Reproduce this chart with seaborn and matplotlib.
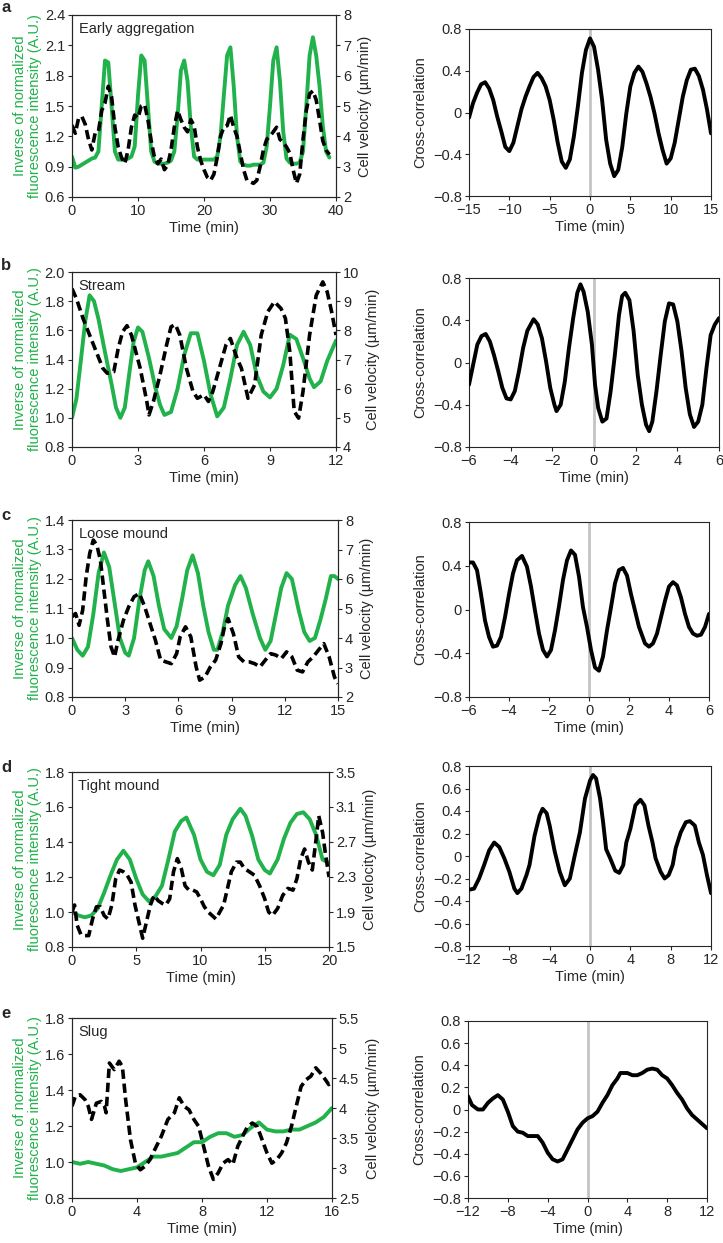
import numpy as np
import matplotlib
matplotlib.use("Agg")
import matplotlib.pyplot as plt
import seaborn as sns

# ---- data ----
# a: Early aggregation
a_t = [0, 0.5, 1, 1.5, 2, 2.5, 3, 3.5, 4, 4.5, 5, 5.5, 6, 6.5, 7, 7.5, 8, 8.5, 9, 9.5,
       10, 10.5, 11, 11.5, 12, 12.5, 13, 13.5, 14, 14.5, 15, 15.5, 16, 16.5, 17, 17.5, 18, 18.5, 19, 19.5,
       20, 20.5, 21, 21.5, 22, 22.5, 23, 23.5, 24, 24.5, 25, 25.5, 26, 26.5, 27, 27.5, 28, 28.5, 29, 29.5,
       30, 30.5, 31, 31.5, 32, 32.5, 33, 33.5, 34, 34.5, 35, 35.5, 36, 36.5, 37, 37.5, 38, 38.5, 39]
a_fluo = [1.0, 0.89, 0.9, 0.92, 0.94, 0.96, 0.98, 0.99, 1.05, 1.5, 1.95, 1.93, 1.5, 1.05, 0.97, 0.97, 0.97, 0.98, 1.0, 1.1,
          1.6, 2.0, 1.95, 1.5, 1.05, 0.95, 0.93, 0.93, 0.93, 0.94, 0.96, 1.05, 1.4, 1.85, 1.95, 1.75, 1.3, 1.0, 0.97, 0.97,
          0.97, 0.97, 0.97, 0.97, 1.0, 1.2, 1.6, 2.0, 2.08, 1.7, 1.2, 0.95, 0.92, 0.91, 0.91, 0.92, 0.92, 0.92, 0.94, 1.1,
          1.5, 1.95, 2.08, 1.75, 1.25, 0.98, 0.94, 0.93, 0.93, 0.94, 1.05, 1.5, 2.0, 2.18, 2.0, 1.7, 1.3, 1.05, 0.99]
a_vel = [4.37, 4.1, 4.6, 4.65, 4.4, 3.9, 3.55, 4.1, 4.15, 4.85, 5.1, 5.65, 5.3, 4.3, 3.65, 3.3, 3.1, 3.55, 4.3, 4.7,
         4.6, 5.0, 5.05, 4.55, 3.85, 3.3, 3.1, 3.25, 2.9, 3.05, 3.55, 4.3, 4.85, 4.55, 4.3, 4.15, 4.55, 4.35, 3.65, 3.2,
         2.9, 2.65, 2.55, 2.75, 3.3, 4.0, 4.3, 4.35, 4.7, 4.3, 4.0, 3.45, 2.9, 2.55, 2.5, 2.45, 2.55, 3.0, 3.55, 3.9,
         4.0, 4.15, 4.3, 3.9, 3.8, 3.65, 3.45, 2.9, 2.45, 2.75, 3.9, 4.85, 5.4, 5.5, 5.2, 4.55, 3.85, 3.55, 3.4]
a_lag = [-15, -14.5, -14, -13.5, -13, -12.5, -12, -11.5, -11, -10.5, -10, -9.5, -9, -8.5, -8, -7.5, -7, -6.5, -6, -5.5,
         -5, -4.5, -4, -3.5, -3, -2.5, -2, -1.5, -1, -0.5, 0, 0.5, 1, 1.5, 2, 2.5, 3, 3.5, 4, 4.5,
         5, 5.5, 6, 6.5, 7, 7.5, 8, 8.5, 9, 9.5, 10, 10.5, 11, 11.5, 12, 12.5, 13, 13.5, 14, 14.5, 15]
a_cc = [-0.05, 0.09, 0.19, 0.27, 0.29, 0.23, 0.12, -0.04, -0.18, -0.33, -0.37, -0.29, -0.13, 0.03, 0.15, 0.25, 0.34, 0.38, 0.33, 0.25,
        0.12, -0.07, -0.29, -0.47, -0.53, -0.45, -0.23, 0.06, 0.38, 0.6, 0.71, 0.63, 0.41, 0.12, -0.26, -0.49, -0.61, -0.55, -0.33, -0.01,
        0.25, 0.38, 0.44, 0.39, 0.28, 0.15, -0.01, -0.2, -0.36, -0.49, -0.44, -0.29, -0.07, 0.15, 0.31, 0.41, 0.42, 0.35, 0.22, 0.03, -0.2]

# b: Stream
b_tf = [0, 0.2, 0.4, 0.6, 0.8, 1.0, 1.2, 1.5, 1.8, 2.0, 2.2, 2.4, 2.6, 2.8, 3.0, 3.2, 3.5, 3.8, 4.0, 4.2,
        4.5, 4.8, 5.1, 5.4, 5.7, 6.0, 6.3, 6.6, 6.9, 7.2, 7.5, 7.8, 8.1, 8.4, 8.7, 9.0, 9.3, 9.6, 9.9, 10.2,
        10.5, 10.8, 11.0, 11.3, 11.6, 12.0]
b_fluo = [1.0, 1.13, 1.39, 1.66, 1.84, 1.8, 1.68, 1.45, 1.23, 1.07, 1.0, 1.07, 1.3, 1.52, 1.62, 1.59, 1.41, 1.2, 1.09, 1.02,
          1.04, 1.2, 1.43, 1.58, 1.58, 1.39, 1.16, 1.01, 1.07, 1.27, 1.5, 1.59, 1.5, 1.29, 1.18, 1.14, 1.2, 1.36, 1.57, 1.54,
          1.41, 1.27, 1.21, 1.25, 1.39, 1.53]
b_tv = [0, 0.2, 0.5, 0.8, 1.1, 1.4, 1.6, 1.9, 2.1, 2.3, 2.5, 2.7, 2.9, 3.1, 3.4, 3.5, 3.7, 4.0, 4.3, 4.5,
        4.7, 4.9, 5.2, 5.5, 5.7, 6.0, 6.2, 6.4, 6.7, 7.0, 7.2, 7.5, 7.7, 8.0, 8.3, 8.6, 8.9, 9.2, 9.5, 9.7,
        9.9, 10.1, 10.3, 10.5, 10.8, 11.1, 11.4, 11.6, 11.8, 12.0]
b_vel = [9.43, 9.09, 8.41, 7.84, 7.27, 6.7, 6.53, 6.58, 7.38, 7.95, 8.16, 7.84, 7.27, 6.7, 5.56, 5.1, 5.56, 6.47, 7.5, 8.12,
         8.2, 7.84, 6.7, 5.9, 5.67, 5.79, 5.56, 5.9, 6.7, 7.5, 7.72, 7.04, 6.7, 5.67, 6.13, 7.84, 8.64, 8.98, 8.75, 8.41,
         7.27, 5.22, 4.99, 5.9, 7.84, 9.2, 9.66, 9.32, 8.64, 7.84]
b_lag = [-6, -5.8, -5.6, -5.4, -5.2, -5.0, -4.8, -4.6, -4.4, -4.2, -4.0, -3.8, -3.6, -3.4, -3.2, -2.9, -2.7, -2.5, -2.3, -2.1,
         -1.9, -1.8, -1.6, -1.4, -1.2, -1.0, -0.8, -0.65, -0.5, -0.3, -0.1, 0.05, 0.2, 0.4, 0.6, 0.8, 1.0, 1.2, 1.35, 1.5,
         1.7, 1.9, 2.1, 2.3, 2.5, 2.65, 2.8, 3.0, 3.2, 3.4, 3.6, 3.8, 4.0, 4.2, 4.4, 4.6, 4.8, 5.0, 5.2, 5.4,
         5.6, 5.8, 6.0]
b_cc = [-0.21, -0.02, 0.17, 0.25, 0.27, 0.2, 0.07, -0.08, -0.24, -0.34, -0.35, -0.27, -0.08, 0.14, 0.3, 0.41, 0.36, 0.23, 0.01, -0.24,
        -0.4, -0.46, -0.4, -0.18, 0.14, 0.42, 0.66, 0.74, 0.67, 0.48, 0.17, -0.21, -0.43, -0.56, -0.53, -0.27, 0.07, 0.45, 0.63, 0.66,
        0.59, 0.3, -0.12, -0.4, -0.59, -0.65, -0.56, -0.27, 0.07, 0.39, 0.56, 0.55, 0.39, 0.11, -0.24, -0.49, -0.61, -0.56, -0.4, -0.05,
        0.26, 0.36, 0.42]

# c: Loose mound
c_tf = [0, 0.3, 0.6, 0.9, 1.2, 1.5, 1.8, 2.1, 2.4, 2.7, 3.0, 3.2, 3.5, 3.8, 4.1, 4.3, 4.6, 4.9, 5.2, 5.6,
        5.9, 6.2, 6.5, 6.8, 7.1, 7.4, 7.7, 8.0, 8.2, 8.5, 8.8, 9.2, 9.5, 9.8, 10.2, 10.6, 10.9, 11.2, 11.5, 11.8,
        12.1, 12.4, 12.8, 13.1, 13.4, 13.7, 14.0, 14.3, 14.6, 14.8, 15.0]
c_fluo = [1.0, 0.96, 0.94, 0.97, 1.08, 1.22, 1.29, 1.24, 1.12, 1.0, 0.95, 0.94, 1.0, 1.13, 1.23, 1.26, 1.21, 1.11, 1.03, 1.0,
          1.04, 1.13, 1.23, 1.28, 1.22, 1.11, 1.02, 0.96, 0.96, 1.02, 1.11, 1.18, 1.21, 1.17, 1.08, 1.0, 0.96, 0.99, 1.08, 1.17,
          1.22, 1.2, 1.09, 1.02, 0.99, 1.0, 1.06, 1.13, 1.21, 1.21, 1.2]
c_tv = [0, 0.2, 0.4, 0.6, 0.8, 1.0, 1.2, 1.4, 1.6, 1.8, 2.0, 2.2, 2.4, 2.6, 2.9, 3.2, 3.5, 3.8, 4.1, 4.4,
        4.7, 5.0, 5.3, 5.6, 5.9, 6.1, 6.4, 6.7, 7.0, 7.2, 7.5, 7.8, 8.1, 8.4, 8.6, 8.8, 9.1, 9.4, 9.7, 10.0,
        10.3, 10.6, 10.9, 11.2, 11.5, 11.8, 12.1, 12.4, 12.7, 13.0, 13.3, 13.6, 13.9, 14.2, 14.5, 14.8, 15.0]
c_vel = [4.72, 4.83, 4.43, 4.94, 6.08, 6.87, 7.32, 7.15, 6.64, 5.62, 4.6, 3.7, 3.36, 3.93, 4.6, 5.06, 5.4, 5.51, 5.06, 4.49,
         3.93, 3.25, 3.19, 3.13, 3.47, 4.04, 4.38, 4.04, 3.02, 2.57, 2.68, 3.02, 3.25, 3.81, 4.38, 4.66, 4.15, 3.36, 3.19, 3.19,
         3.13, 3.02, 3.25, 3.47, 3.42, 3.3, 3.53, 3.36, 2.91, 2.85, 3.19, 3.36, 3.59, 3.81, 3.36, 2.68, 2.45]
c_lag = [-6, -5.8, -5.6, -5.4, -5.2, -5.0, -4.8, -4.6, -4.4, -4.2, -4.0, -3.8, -3.6, -3.35, -3.1, -2.9, -2.7, -2.5, -2.3, -2.1,
         -1.9, -1.7, -1.5, -1.3, -1.1, -0.9, -0.7, -0.5, -0.3, -0.1, 0.1, 0.3, 0.5, 0.7, 0.9, 1.1, 1.3, 1.5, 1.7, 1.9,
         2.1, 2.3, 2.5, 2.8, 3.0, 3.2, 3.4, 3.6, 3.8, 4.0, 4.2, 4.4, 4.6, 4.8, 5.0, 5.2, 5.4, 5.6, 5.8, 6.0]
c_cc = [0.43, 0.43, 0.36, 0.14, -0.1, -0.25, -0.34, -0.33, -0.25, -0.07, 0.14, 0.33, 0.45, 0.49, 0.39, 0.21, -0.01, -0.22, -0.37, -0.43,
        -0.37, -0.19, 0.03, 0.27, 0.45, 0.54, 0.5, 0.3, 0.02, -0.16, -0.37, -0.53, -0.56, -0.43, -0.19, 0.02, 0.24, 0.36, 0.38, 0.31,
        0.14, -0.01, -0.16, -0.31, -0.34, -0.31, -0.22, -0.07, 0.08, 0.21, 0.25, 0.22, 0.11, -0.04, -0.16, -0.22, -0.24, -0.23, -0.16, -0.04]

# d: Tight mound
d_tf = [0, 0.5, 1.0, 1.5, 2.0, 2.5, 3.0, 3.5, 4.0, 4.5, 5.0, 5.5, 6.0, 6.5, 7.0, 7.5, 8.0, 8.5, 8.9, 9.5,
        10, 10.5, 11, 11.5, 12, 12.5, 13.1, 13.5, 14, 14.5, 15, 15.4, 16, 16.5, 17, 17.5, 18, 18.5, 19, 19.5, 20]
d_fluo = [1.0, 0.98, 0.97, 0.98, 1.02, 1.11, 1.21, 1.3, 1.35, 1.3, 1.19, 1.1, 1.06, 1.09, 1.15, 1.3, 1.46, 1.52, 1.54, 1.44,
          1.3, 1.23, 1.21, 1.27, 1.44, 1.53, 1.59, 1.55, 1.44, 1.3, 1.24, 1.22, 1.3, 1.42, 1.51, 1.56, 1.57, 1.53, 1.44, 1.3, 1.28]
d_tv = [0, 0.2, 0.4, 0.7, 1.0, 1.3, 1.6, 1.9, 2.2, 2.5, 2.8, 3.1, 3.4, 3.7, 4.0, 4.3, 4.6, 4.9, 5.2, 5.5,
        5.8, 6.1, 6.4, 6.7, 7.0, 7.3, 7.6, 7.9, 8.2, 8.5, 8.8, 9.1, 9.4, 9.7, 10.0, 10.3, 10.6, 10.9, 11.2, 11.5,
        11.8, 12.1, 12.4, 12.8, 13.1, 13.4, 13.8, 14.2, 14.6, 15.0, 15.3, 15.6, 16.0, 16.4, 16.8, 17.2, 17.5, 17.8, 18.1, 18.4,
        18.7, 19.0, 19.2, 19.5, 19.7, 20.0]
d_vel = [1.9, 1.98, 1.75, 1.64, 1.63, 1.63, 1.82, 1.96, 1.96, 1.86, 1.82, 1.98, 2.28, 2.38, 2.36, 2.32, 2.24, 1.98, 1.79, 1.6,
         1.79, 1.98, 2.09, 2.03, 2.0, 1.98, 2.05, 2.36, 2.51, 2.4, 2.2, 2.15, 2.15, 2.13, 2.05, 1.96, 1.9, 1.86, 1.82, 1.9,
         1.98, 2.17, 2.36, 2.47, 2.47, 2.4, 2.36, 2.32, 2.2, 2.05, 1.9, 1.86, 1.94, 2.09, 2.17, 2.15, 2.28, 2.51, 2.62, 2.47,
         2.38, 2.74, 3.0, 2.81, 2.59, 2.3]
d_lag = [-12, -11.5, -11, -10.5, -10, -9.5, -9, -8.5, -8, -7.5, -7.2, -6.8, -6.3, -6, -5.5, -5, -4.7, -4.3, -4, -3.5,
         -3, -2.5, -2, -1.5, -1, -0.5, 0, 0.3, 0.6, 1.0, 1.3, 1.6, 2.0, 2.5, 2.9, 3.3, 3.6, 4.0, 4.5, 5.0,
         5.4, 5.8, 6.2, 6.5, 7.0, 7.4, 7.8, 8.2, 8.5, 9.0, 9.5, 9.9, 10.4, 10.8, 11.2, 11.6, 12]
d_cc = [-0.3, -0.29, -0.2, -0.08, 0.05, 0.12, 0.08, -0.02, -0.14, -0.29, -0.33, -0.29, -0.17, -0.08, 0.18, 0.36, 0.42, 0.38, 0.27, 0.04,
        -0.14, -0.26, -0.2, 0.01, 0.21, 0.51, 0.67, 0.72, 0.69, 0.51, 0.3, 0.06, -0.02, -0.13, -0.15, -0.08, 0.12, 0.24, 0.45, 0.5,
        0.45, 0.27, 0.12, -0.02, -0.14, -0.2, -0.17, -0.08, 0.07, 0.21, 0.3, 0.31, 0.27, 0.12, 0.01, -0.17, -0.33]

# e: Slug
e_tf = [0, 0.5, 1.0, 1.5, 2.0, 2.5, 3.0, 3.5, 4.0, 4.5, 5.0, 5.5, 6.0, 6.5, 7.0, 7.5, 8.0, 8.5, 9.0, 9.5,
        10.0, 10.5, 11.0, 11.5, 12, 12.5, 13, 13.5, 14, 14.5, 15, 15.5, 16]
e_fluo = [1.0, 0.99, 1.0, 0.99, 0.98, 0.96, 0.95, 0.96, 0.97, 1.0, 1.03, 1.03, 1.04, 1.05, 1.08, 1.11, 1.11, 1.14, 1.16, 1.16,
          1.14, 1.15, 1.19, 1.22, 1.18, 1.17, 1.17, 1.18, 1.18, 1.2, 1.22, 1.25, 1.3]
e_tv = [0, 0.2, 0.5, 0.8, 1.0, 1.2, 1.5, 1.8, 2.0, 2.1, 2.3, 2.6, 2.9, 3.1, 3.3, 3.6, 3.9, 4.2, 4.5, 4.8,
        5.1, 5.5, 5.9, 6.3, 6.6, 6.9, 7.2, 7.5, 7.8, 8.1, 8.4, 8.7, 9.0, 9.3, 9.6, 9.9, 10.2, 10.5, 10.8, 11.1,
        11.4, 11.7, 12.0, 12.3, 12.6, 12.9, 13.2, 13.5, 13.8, 14.1, 14.4, 14.7, 15.0, 15.3, 15.6, 15.8, 16.0]
e_vel = [4.03, 4.19, 4.22, 4.14, 4.03, 3.81, 4.08, 4.11, 4.03, 3.92, 4.75, 4.64, 4.78, 4.69, 4.14, 3.47, 3.08, 2.97, 3.03, 3.14,
         3.31, 3.53, 3.81, 3.92, 4.17, 4.03, 3.97, 3.81, 3.69, 3.36, 3.03, 2.81, 2.92, 3.08, 3.14, 3.06, 3.36, 3.53, 3.69, 3.75,
         3.69, 3.47, 3.25, 3.08, 3.14, 3.25, 3.42, 3.69, 4.03, 4.36, 4.47, 4.53, 4.67, 4.58, 4.47, 4.39, 4.44]
e_lag = [-12, -11.6, -11, -10.5, -10, -9.5, -9, -8.5, -8, -7.5, -7, -6.5, -6, -5, -4.5, -4, -3.5, -3, -2.5, -2,
         -1.5, -1, -0.5, 0, 0.5, 1, 1.5, 2, 2.5, 3, 3.3, 4, 4.5, 5, 5.5, 6, 6.5, 7, 7.5, 8,
         8.5, 9, 9.5, 10, 10.5, 11, 11.5, 12]
e_cc = [0.12, 0.04, 0.0, 0.0, 0.06, 0.1, 0.13, 0.09, -0.02, -0.15, -0.2, -0.21, -0.24, -0.24, -0.3, -0.39, -0.45, -0.47, -0.45, -0.36,
        -0.27, -0.18, -0.12, -0.08, -0.06, -0.02, 0.06, 0.13, 0.22, 0.28, 0.33, 0.33, 0.31, 0.31, 0.33, 0.36, 0.37, 0.36, 0.31, 0.28,
        0.22, 0.15, 0.09, 0.01, -0.05, -0.09, -0.13, -0.17]

# per-panel settings
panel_letters = ["a", "b", "c", "d", "e"]
stage_names = ["Early aggregation", "Stream", "Loose mound", "Tight mound", "Slug"]
fluo_ylims = [(0.6, 2.4), (0.8, 2.0), (0.8, 1.4), (0.8, 1.8), (0.8, 1.8)]
fluo_yticks = [[0.6, 0.9, 1.2, 1.5, 1.8, 2.1, 2.4], [0.8, 1.0, 1.2, 1.4, 1.6, 1.8, 2.0],
               [0.8, 0.9, 1.0, 1.1, 1.2, 1.3, 1.4], [0.8, 1.0, 1.2, 1.4, 1.6, 1.8], [0.8, 1.0, 1.2, 1.4, 1.6, 1.8]]
vel_ylims = [(2, 8), (4, 10), (2, 8), (1.5, 3.5), (2.5, 5.5)]
vel_yticks = [[2, 3, 4, 5, 6, 7, 8], [4, 5, 6, 7, 8, 9, 10], [2, 3, 4, 5, 6, 7, 8],
              [1.5, 1.9, 2.3, 2.7, 3.1, 3.5], [2.5, 3, 3.5, 4, 4.5, 5, 5.5]]
vel_ticklabels = [["2", "3", "4", "5", "6", "7", "8"], ["4", "5", "6", "7", "8", "9", "10"],
                  ["2", "3", "4", "5", "6", "7", "8"], ["1.5", "1.9", "2.3", "2.7", "3.1", "3.5"],
                  ["2.5", "3", "3.5", "4", "4.5", "5", "5.5"]]
time_xlims = [(0, 40), (0, 12), (0, 15), (0, 20), (0, 16)]
time_xticks = [[0, 10, 20, 30, 40], [0, 3, 6, 9, 12], [0, 3, 6, 9, 12, 15], [0, 5, 10, 15, 20], [0, 4, 8, 12, 16]]
lag_xlims = [(-15, 15), (-6, 6), (-6, 6), (-12, 12), (-12, 12)]
lag_xticks = [[-15, -10, -5, 0, 5, 10, 15], [-6, -4, -2, 0, 2, 4, 6], [-6, -4, -2, 0, 2, 4, 6],
              [-12, -8, -4, 0, 4, 8, 12], [-12, -8, -4, 0, 4, 8, 12]]
cc_coarse = [-0.8, -0.4, 0, 0.4, 0.8]
cc_fine = [-0.8, -0.6, -0.4, -0.2, 0, 0.2, 0.4, 0.6, 0.8]
cc_yticks = [cc_coarse, cc_coarse, cc_coarse, cc_fine, cc_fine]

fluo_series = [(a_t, a_fluo), (b_tf, b_fluo), (c_tf, c_fluo), (d_tf, d_fluo), (e_tf, e_fluo)]
vel_series = [(a_t, a_vel), (b_tv, b_vel), (c_tv, c_vel), (d_tv, d_vel), (e_tv, e_vel)]
cc_series = [(a_lag, a_cc), (b_lag, b_cc), (c_lag, c_cc), (d_lag, d_cc), (e_lag, e_cc)]

# axes boxes in reference pixels: (x0, y0, x1, y1)
left_boxes = [(72, 15, 336, 197), (72, 272, 336, 447), (72, 520, 338, 697), (72, 772, 329, 947), (72, 1018, 332, 1198)]
right_boxes = [(469, 29, 711, 196), (469, 278, 719, 447), (469, 522, 709, 697), (469, 766, 711, 946), (468, 1021, 707, 1198)]
letter_y = [7, 266, 516, 768, 1013]

GREEN = "#21b24b"
W, H = 723, 1243

sns.set_style("ticks")
plt.rcParams["font.family"] = ["Liberation Sans", "DejaVu Sans"]
plt.rcParams["font.size"] = 10.5
plt.rcParams["axes.linewidth"] = 0.8
plt.rcParams["xtick.major.size"] = 3
plt.rcParams["ytick.major.size"] = 3
plt.rcParams["xtick.major.width"] = 0.8
plt.rcParams["ytick.major.width"] = 0.8
plt.rcParams["xtick.major.pad"] = 2
plt.rcParams["ytick.major.pad"] = 2


def box(b):
    x0, y0, x1, y1 = b
    return [x0 / W, 1 - y1 / H, (x1 - x0) / W, (y1 - y0) / H]


def fmt(v):
    s = f"{v:g}"
    if s == "-0":
        s = "0"
    return s.replace("-", "\u2212")


fig = plt.figure(figsize=(W / 100, H / 100), dpi=100)

for i in range(5):
    # left: fluorescence + velocity
    ax = fig.add_axes(box(left_boxes[i]))
    ax2 = ax.twinx()
    tx, fy = fluo_series[i]
    sns.lineplot(x=tx, y=fy, ax=ax, color=GREEN, linewidth=2.8)
    tv, vy = vel_series[i]
    sns.lineplot(x=tv, y=vy, ax=ax2, color="black", linewidth=2.6)
    ax2.lines[0].set_dashes((2.6, 1.3))
    ax.set_xlim(*time_xlims[i])
    ax.set_xticks(time_xticks[i])
    ax.set_ylim(*fluo_ylims[i])
    ax.set_yticks(fluo_yticks[i])
    ax.set_yticklabels([f"{v:.1f}" for v in fluo_yticks[i]])
    ax2.set_ylim(*vel_ylims[i])
    ax2.set_yticks(vel_yticks[i])
    ax2.set_yticklabels(vel_ticklabels[i])
    ax.set_xlabel("Time (min)", labelpad=2)
    ax.set_ylabel("Inverse of normalized\nfluorescence intensity (A.U.)", color=GREEN, labelpad=2,
                  linespacing=1.05)
    ax2.set_ylabel("Cell velocity (\u00b5m/min)", labelpad=5)
    for s in ax.spines.values():
        s.set_visible(True)
    ax.text(0.025, 0.96, stage_names[i], transform=ax.transAxes, ha="left", va="top")
    fig.text(1 / W, 1 - letter_y[i] / H, panel_letters[i], ha="left", va="center",
             fontsize=12, fontweight="bold")

    # right: cross-correlation
    axc = fig.add_axes(box(right_boxes[i]))
    axc.axvline(0, color="#c4c4c4", linewidth=2, zorder=1)
    lx, cy = cc_series[i]
    sns.lineplot(x=lx, y=cy, ax=axc, color="black", linewidth=2.8, zorder=3)
    axc.set_xlim(*lag_xlims[i])
    axc.set_xticks(lag_xticks[i])
    axc.set_xticklabels([fmt(v) for v in lag_xticks[i]])
    axc.set_ylim(-0.8, 0.8)
    axc.set_yticks(cc_yticks[i])
    axc.set_yticklabels([fmt(v) for v in cc_yticks[i]])
    axc.set_xlabel("Time (min)", labelpad=2)
    axc.set_ylabel("Cross-correlation", labelpad=4)
    for s in axc.spines.values():
        s.set_visible(True)

fig.savefig("out.png", dpi=100)
